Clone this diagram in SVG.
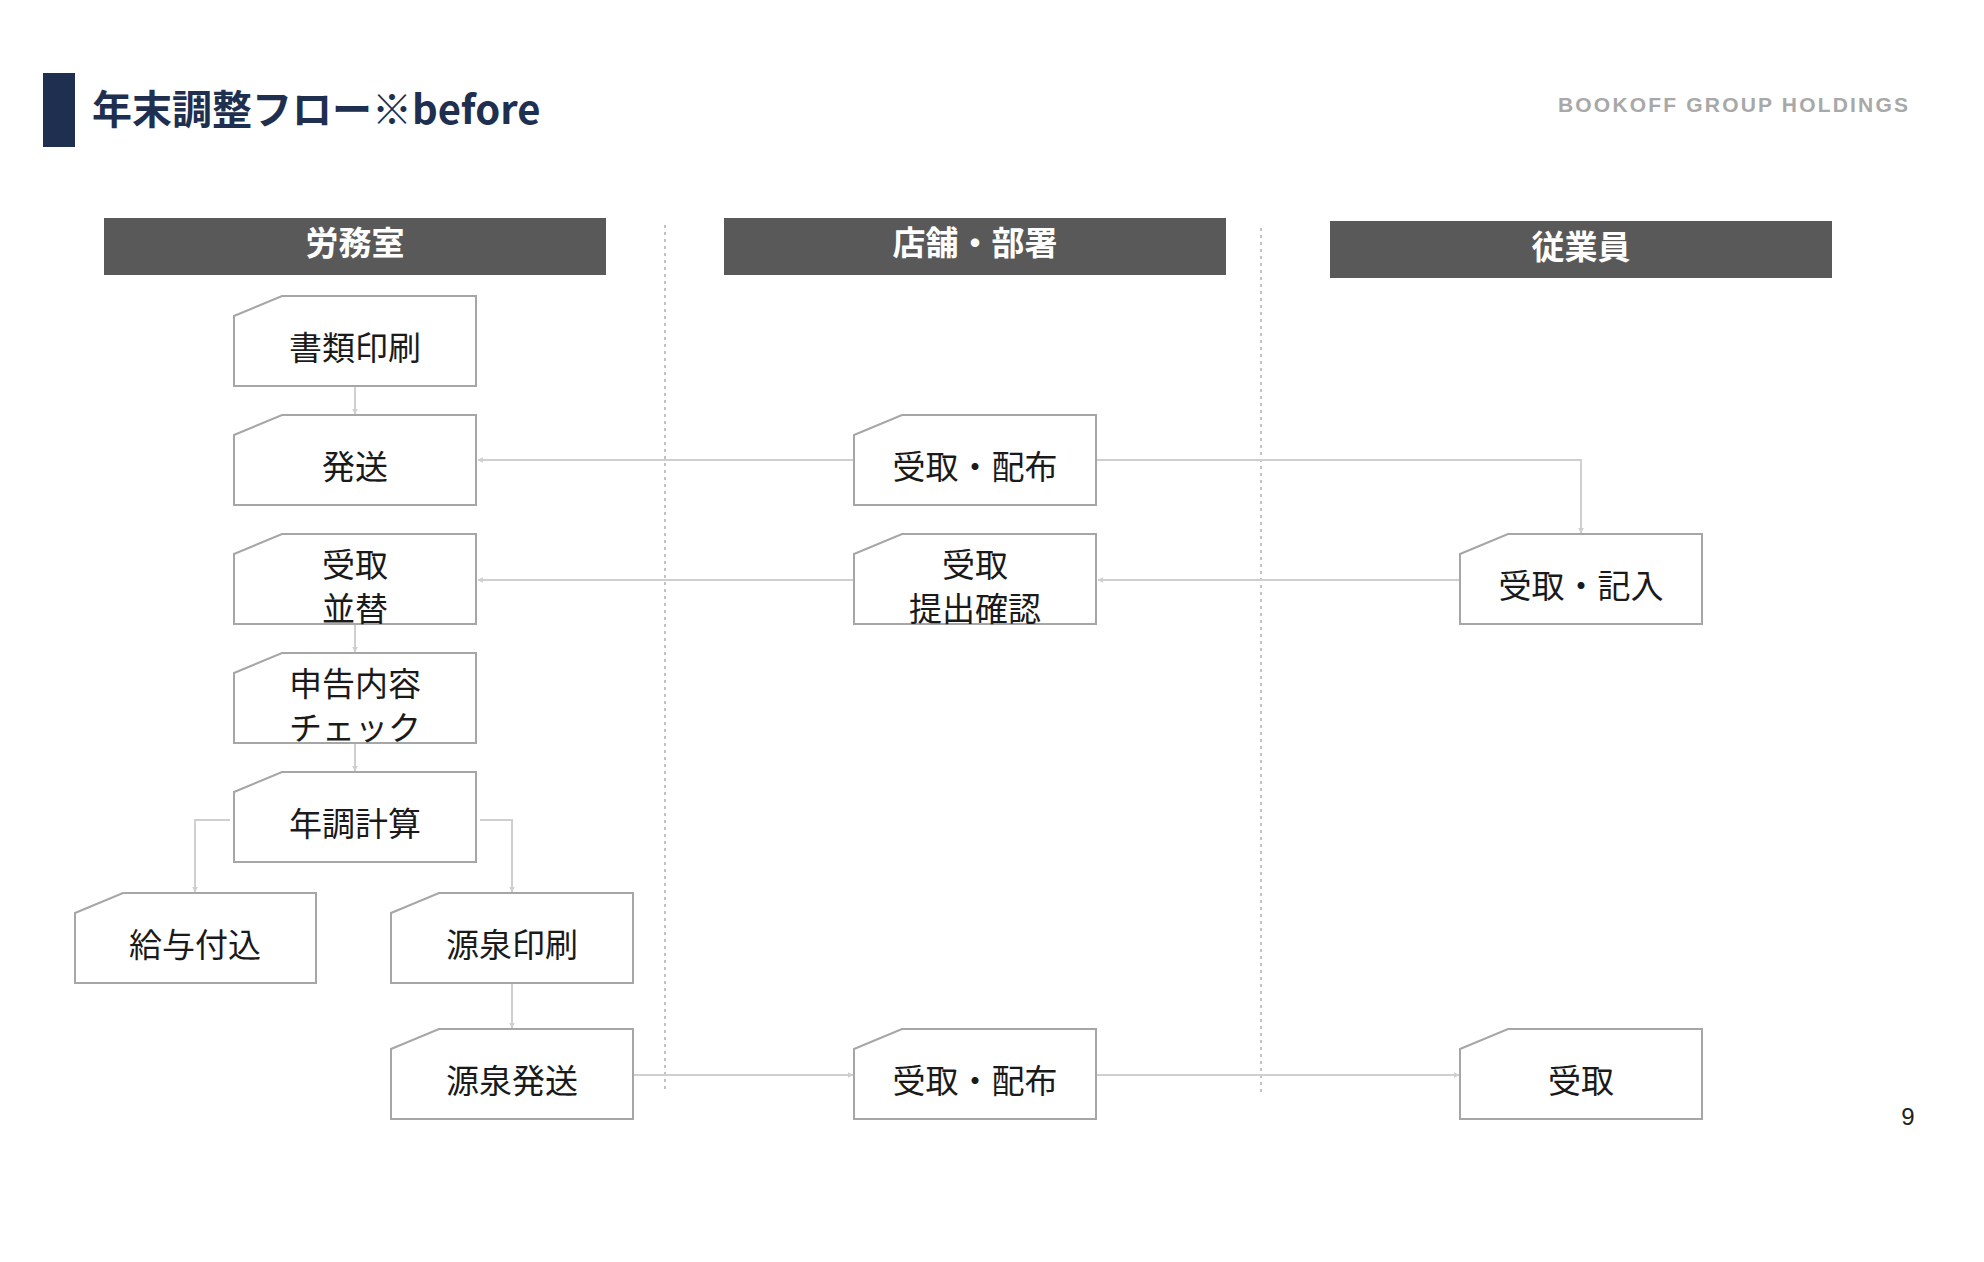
<svg xmlns="http://www.w3.org/2000/svg" width="1984" height="1262" viewBox="0 0 1984 1262">
<defs>
<style>
.hdr{fill:#595959;}
.hdrt{fill:#fff;font-family:"Noto Sans CJK JP",sans-serif;font-weight:700;font-size:33px;text-anchor:middle;dominant-baseline:central;}
.box{fill:#fff;stroke:#a6a6a6;stroke-width:2;}
.t{fill:#1a1a1a;font-family:"Noto Sans CJK JP",sans-serif;font-size:33px;text-anchor:middle;dominant-baseline:central;}
.c{fill:none;stroke:#cfcfcf;stroke-width:2;marker-end:url(#ah);}
.lane{stroke:#b0b0b0;stroke-width:1.5;stroke-dasharray:3 4;}
</style>
<marker id="ah" viewBox="0 0 10 10" refX="9" refY="5" markerWidth="6" markerHeight="6" orient="auto" markerUnits="userSpaceOnUse">
<path d="M0,0 L10,5 L0,10 z" fill="#cfcfcf"/>
</marker>
</defs>
<rect width="1984" height="1262" fill="#fff"/>
<g id="title">
<rect x="43" y="73" width="32" height="74" fill="#1e2f50"/>
<text x="92" y="124" font-family="'Noto Sans CJK JP',sans-serif" font-weight="700" font-size="40" fill="#1e2f50">年末調整フロー※before</text>
</g>
<g id="brand">
<text x="1558" y="112" font-family="'Liberation Sans',sans-serif" font-weight="700" font-size="21" fill="#a8a8a8" textLength="350" lengthAdjust="spacing">BOOKOFF GROUP HOLDINGS</text>
</g>
<text x="1908" y="1125" font-family="'Liberation Sans',sans-serif" font-size="24" fill="#222" text-anchor="middle">9</text>
<g id="lanes">
<line class="lane" x1="665" y1="225" x2="665" y2="1090"/>
<line class="lane" x1="1261" y1="228" x2="1261" y2="1095"/>
</g>
<g id="lane-rombu"><rect class="hdr" x="104" y="218" width="502" height="57"/><text class="hdrt" x="355" y="241">労務室</text></g>
<g id="lane-tenpo"><rect class="hdr" x="724" y="218" width="502" height="57"/><text class="hdrt" x="975" y="241">店舗・部署</text></g>
<g id="lane-jugyoin"><rect class="hdr" x="1330" y="221" width="502" height="57"/><text class="hdrt" x="1581" y="245">従業員</text></g>
<g id="connectors">
<path class="c" d="M355,387 V414"/>
<path class="c" d="M854,460 H478"/>
<path class="c" d="M1097,460 H1581 V533"/>
<path class="c" d="M1459,580 H1098"/>
<path class="c" d="M854,580 H478"/>
<path class="c" d="M355,625 V652"/>
<path class="c" d="M355,744 V771"/>
<path class="c" d="M230,820 H195 V892"/>
<path class="c" d="M480,820 H512 V892"/>
<path class="c" d="M512,984 V1028"/>
<path class="c" d="M634,1075 H853"/>
<path class="c" d="M1097,1075 H1459"/>
</g>
<g id="n1"><path class="box" d="M234,316 L282,296 H476 V386 H234 Z"/><text class="t" x="355" y="346">書類印刷</text></g>
<g id="n2"><path class="box" d="M234,435 L282,415 H476 V505 H234 Z"/><text class="t" x="355" y="465">発送</text></g>
<g id="n3"><path class="box" d="M234,554 L282,534 H476 V624 H234 Z"/><text class="t" x="355" y="563">受取<tspan x="355" y="607">並替</tspan></text></g>
<g id="n4"><path class="box" d="M234,673 L282,653 H476 V743 H234 Z"/><text class="t" x="355" y="682">申告内容<tspan x="355" y="726">チェック</tspan></text></g>
<g id="n5"><path class="box" d="M234,792 L282,772 H476 V862 H234 Z"/><text class="t" x="355" y="822">年調計算</text></g>
<g id="n6"><path class="box" d="M75,913 L123,893 H316 V983 H75 Z"/><text class="t" x="195" y="943">給与付込</text></g>
<g id="n7"><path class="box" d="M391,913 L439,893 H633 V983 H391 Z"/><text class="t" x="512" y="943">源泉印刷</text></g>
<g id="n8"><path class="box" d="M391,1049 L439,1029 H633 V1119 H391 Z"/><text class="t" x="512" y="1079">源泉発送</text></g>
<g id="n9"><path class="box" d="M854,435 L902,415 H1096 V505 H854 Z"/><text class="t" x="975" y="465">受取・配布</text></g>
<g id="n10"><path class="box" d="M854,554 L902,534 H1096 V624 H854 Z"/><text class="t" x="975" y="563">受取<tspan x="975" y="607">提出確認</tspan></text></g>
<g id="n11"><path class="box" d="M854,1049 L902,1029 H1096 V1119 H854 Z"/><text class="t" x="975" y="1079">受取・配布</text></g>
<g id="n12"><path class="box" d="M1460,554 L1508,534 H1702 V624 H1460 Z"/><text class="t" x="1581" y="584">受取・記入</text></g>
<g id="n13"><path class="box" d="M1460,1049 L1508,1029 H1702 V1119 H1460 Z"/><text class="t" x="1581" y="1079">受取</text></g>
</svg>
